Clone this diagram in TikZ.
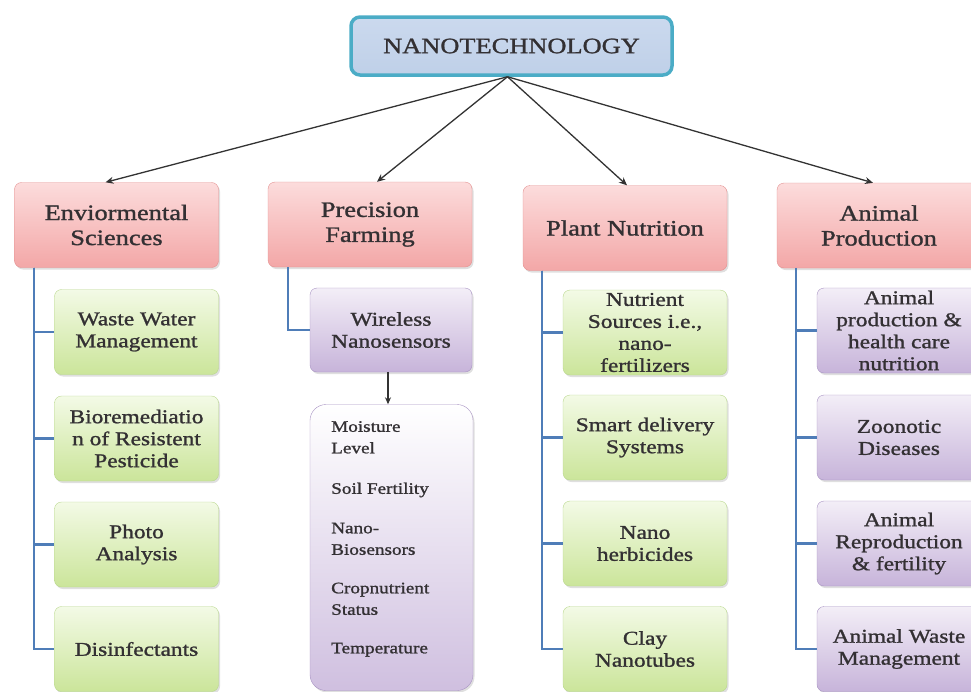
\documentclass[tikz,border=0pt]{standalone}
\usepackage{fontspec}
\setmainfont{Liberation Serif}[FakeStretch=1.2,FakeBold=1.2]
\usetikzlibrary{arrows.meta,shadows}
\definecolor{pinkT}{HTML}{FCDCDC}
\definecolor{pinkB}{HTML}{F3A7A7}
\definecolor{pinkD}{HTML}{E39090}
\definecolor{greenT}{HTML}{F3FAE6}
\definecolor{greenB}{HTML}{CBE59A}
\definecolor{greenD}{HTML}{B8D78C}
\definecolor{purT}{HTML}{F3EEF7}
\definecolor{purB}{HTML}{C7B4DA}
\definecolor{purD}{HTML}{A893C3}
\definecolor{topF}{HTML}{BFD0E8}
\definecolor{topFT}{HTML}{CBD9EE}
\definecolor{topD}{HTML}{4BACC6}
\definecolor{linkC}{HTML}{4F7DB8}
\definecolor{txt}{HTML}{333033}
\begin{document}
\begin{tikzpicture}[x=1pt,y=-1pt,
  box/.style={rounded corners=7pt, inner sep=0pt, align=center, text=txt,
    drop shadow={shadow xshift=1.5pt, shadow yshift=-2pt, opacity=0.25}},
  lone/.style={box, draw=pinkD, top color=pinkT, bottom color=pinkB,
    minimum width=204pt, minimum height=85pt, font=\fontsize{22}{25}\selectfont},
  lgreen/.style={box, draw=greenD, top color=greenT, bottom color=greenB,
    minimum width=164pt, minimum height=85pt, font=\fontsize{19.5}{22}\selectfont},
  lpurple/.style={box, draw=purD, top color=purT, bottom color=purB,
    minimum width=164pt, minimum height=85pt, font=\fontsize{19.5}{22}\selectfont},
  link/.style={draw=linkC, line width=2.5pt},
  arr/.style={draw=black!80, line width=1.3pt, -{Stealth[length=8pt,width=7pt]}},
]
\useasboundingbox (0,0) rectangle (971,691);
\clip (0,0) rectangle (971,691);

% top
\node[rounded corners=9pt, draw=topD, line width=3.5pt, top color=topFT, bottom color=topF,
  minimum width=321pt, minimum height=58pt, inner sep=0pt, text=txt,
  font=\fontsize{22}{25}\selectfont] (top) at (511.5,46) {NANOTECHNOLOGY};

% level 1
\node[lone] (env) at (116.5,225) {Enviormental\\Sciences};
\node[lone] (prec) at (370,224.5) {Precision\\Farming};
\node[lone] (plant) at (625,228) {Plant Nutrition};
\node[lone] (anim) at (879,225.5) {Animal\\Production};

% arrows
\draw[arr] ([xshift=-4pt]top.south) -- ([xshift=-11pt]env.north);
\draw[arr] ([xshift=-4pt]top.south) -- ([xshift=7pt]prec.north);
\draw[arr] ([xshift=-4pt]top.south) -- ([xshift=2pt]plant.north);
\draw[arr] ([xshift=-4pt]top.south) -- ([xshift=-6pt]anim.north);

% column 1
\node[lgreen] (e1) at (136.5,332) {Waste Water\\Management};
\node[lgreen] (e2) at (136.5,438.5) {Bioremediatio\\n of Resistent\\Pesticide};
\node[lgreen] (e3) at (136.5,544.5) {Photo\\Analysis};
\node[lgreen] (e4) at (136.5,649) {Disinfectants};
\foreach \n in {e1,e2,e3,e4}
  \draw[link] ([xshift=19.5pt]env.south west) |- (\n.west);

% column 2
\node[lpurple, minimum width=162pt, minimum height=84pt] (wl) at (391,330) {Wireless\\Nanosensors};
\draw[link] ([xshift=20pt]prec.south west) |- (wl.west);
\node[box, rounded corners=16pt, draw=purD, top color=white, bottom color=purB!85,
  minimum width=163pt, minimum height=286pt] (big) at (391.5,547.5) {};
\node[anchor=north west, align=left, inner sep=0pt, text=txt,
  font=\fontsize{16}{21.5}\selectfont] (bigtxt) at (331,421)
  {Moisture\\Level\\[19pt]Soil Fertility\\[18pt]Nano-\\Biosensors\\[17pt]Cropnutrient\\Status\\[17pt]Temperature};
\draw[arr, line width=1.2pt, -{Stealth[length=7pt,width=6pt]}] ([xshift=-3pt]wl.south) -- ([xshift=-3.5pt]big.north);

% column 3
\node[lgreen] (p1) at (645,332.5) {Nutrient\\Sources i.e.,\\nano-\\fertilizers};
\node[lgreen] (p2) at (645,437.5) {Smart delivery\\Systems};
\node[lgreen] (p3) at (645,543.5) {Nano\\herbicides};
\node[lgreen] (p4) at (645,649) {Clay\\Nanotubes};
\foreach \n in {p1,p2,p3,p4}
  \draw[link] ([xshift=19pt]plant.south west) |- (\n.west);

% column 4
\node[lpurple] (a1) at (899,330.5) {Animal\\production \&\\health care\\nutrition};
\node[lpurple] (a2) at (899,437.5) {Zoonotic\\Diseases};
\node[lpurple] (a3) at (899,543.5) {Animal\\Reproduction\\\& fertility};
\node[lpurple] (a4) at (899,649) {Animal Waste\\Management};
\foreach \n in {a1,a2,a3,a4}
  \draw[link] ([xshift=19pt]anim.south west) |- (\n.west);
\end{tikzpicture}
\end{document}
